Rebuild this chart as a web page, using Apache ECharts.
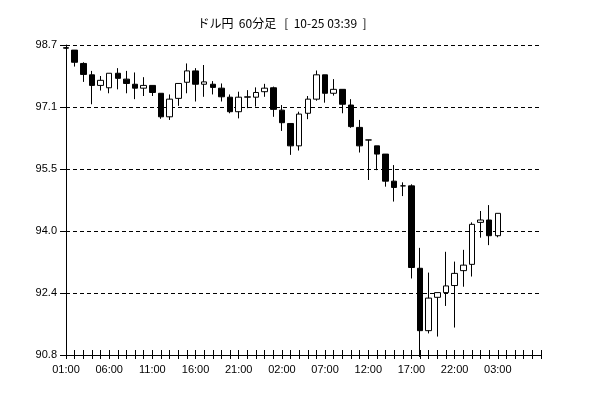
<!DOCTYPE html>
<html>
<head>
<meta charset="utf-8">
<script src="https://cdn.jsdelivr.net/npm/echarts@6/dist/echarts.min.js"></script>
<style>html,body{margin:0;padding:0;background:#fff;}#c{width:598px;height:398px;}</style>
</head>
<body>
<div id="c"></div>
<script>
const titleText = 'ドル円  60分足   [  10-25 03:39  ]';
const categories = ['01:00','02:00','03:00','04:00','05:00','06:00','07:00','08:00','09:00','10:00',
  '11:00','12:00','13:00','14:00','15:00','16:00','17:00','18:00','19:00','20:00',
  '21:00','22:00','23:00','00:00','01:00','02:00','03:00','04:00','05:00','06:00',
  '07:00','08:00','09:00','10:00','11:00','12:00','13:00','14:00','15:00','16:00',
  '17:00','18:00','19:00','20:00','21:00','22:00','23:00','00:00','01:00','02:00',
  '03:00','04:00','05:00','06:00','07:00','08:00'];
const openVals  = [98.63,98.57,98.23,97.94,97.67,97.61,97.98,97.83,97.70,97.60,97.67,97.47,96.87,97.34,97.75,98.04,97.70,97.70,97.60,97.37,97.00,97.37,97.37,97.51,97.61,97.04,96.70,96.13,96.96,97.32,97.94,97.47,97.57,97.17,96.60,96.28,96.13,95.92,95.23,95.11,95.11,93.01,91.42,92.27,92.39,92.57,92.95,93.11,94.18,94.24,93.84];
const closeVals = [98.62,98.26,97.95,97.67,97.80,97.98,97.85,97.72,97.60,97.67,97.49,96.87,97.32,97.72,98.04,97.70,97.76,97.62,97.38,97.00,97.37,97.38,97.49,97.60,97.06,96.72,96.13,96.94,97.32,97.94,97.47,97.57,97.19,96.62,96.13,96.28,95.92,95.23,95.07,95.11,93.03,91.42,92.25,92.39,92.56,92.88,93.09,94.13,94.24,93.84,94.41];
const lowVals   = [98.61,98.15,97.76,97.19,97.54,97.47,97.57,97.47,97.32,97.40,97.40,96.82,96.79,97.15,97.47,97.26,97.38,97.44,97.26,96.96,96.83,97.09,97.13,97.38,96.87,96.51,95.90,96.01,96.81,97.28,97.23,97.41,96.96,96.59,95.96,95.26,95.51,95.09,94.71,94.85,92.75,90.75,91.35,91.27,92.05,91.50,92.54,92.80,93.79,93.60,93.80];
const highVals  = [98.64,98.57,98.26,98.04,97.91,97.98,98.11,98.04,98.00,97.88,97.67,97.47,97.44,97.72,98.23,98.11,98.19,97.78,97.72,97.44,97.51,97.55,97.62,97.71,97.64,97.17,96.70,97.00,97.40,98.05,97.94,97.83,97.57,97.32,96.79,96.28,96.13,95.92,95.64,95.20,95.15,93.53,92.90,92.39,93.43,93.18,93.48,94.18,94.47,94.62,94.41];
const yMin = 90.8, yMax = 98.7, yStep = 1.58;

const candleData = openVals.map((o, i) => [o, closeVals[i], lowVals[i], highVals[i]]);
const font = '"Liberation Sans", Arial, sans-serif';

const chart = echarts.init(document.getElementById('c'), null, {renderer: 'canvas'});
chart.setOption({
  animation: false,
  backgroundColor: '#fff',
  title: {
    text: titleText, left: 277, top: 12, textAlign: 'center',
    textStyle: {fontSize: 12, fontWeight: 'normal', color: '#000', fontFamily: '"Noto Sans CJK JP", sans-serif'}
  },
  grid: {left: 66, right: 57, top: 45, bottom: 43, containLabel: false},
  xAxis: [{
    type: 'category', data: categories, boundaryGap: false,
    axisLine: {lineStyle: {color: '#000', width: 1}},
    axisTick: {show: true, inside: true, length: 5, interval: 0, lineStyle: {color: '#000'}},
    axisLabel: {interval: (i) => i % 5 === 0 && i <= 50, margin: 9, color: '#000', fontSize: 11, fontFamily: font},
    splitLine: {show: false}
  }, {
    type: 'category', data: categories, boundaryGap: false, position: 'bottom',
    axisLine: {show: false},
    axisTick: {show: true, inside: false, length: 4, interval: 0, lineStyle: {color: '#000'}},
    axisLabel: {show: false},
    splitLine: {show: false}
  }],
  yAxis: {
    type: 'value', min: yMin, max: yMax, interval: yStep,
    axisLine: {show: true, lineStyle: {color: '#000'}},
    axisTick: {show: true, length: 6, lineStyle: {color: '#000'}},
    axisLabel: {formatter: (v) => v.toFixed(1), margin: 9, color: '#000', fontSize: 11, fontFamily: font},
    splitLine: {show: true, lineStyle: {color: '#000', type: [4, 3], width: 1}}
  },
  series: [{
    type: 'candlestick', data: candleData, barWidth: 6, clip: false,
    itemStyle: {color: '#fff', color0: '#000', borderColor: '#000', borderColor0: '#000', borderWidth: 1}
  }]
});
</script>
</body>
</html>
